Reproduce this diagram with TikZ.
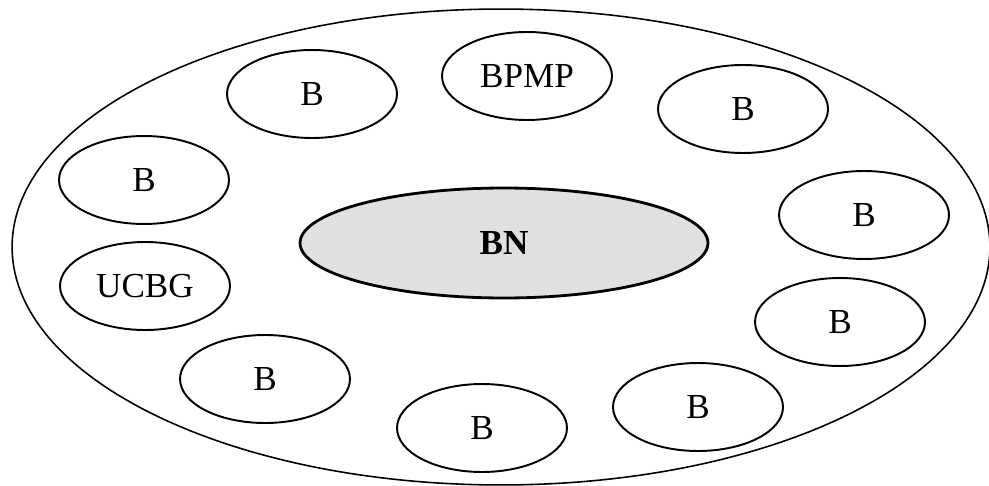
\documentclass[tikz,border=0pt]{standalone}
\usepackage{fontspec}
\setmainfont{Liberation Serif}
\usetikzlibrary{shapes.geometric}

\begin{document}
\begin{tikzpicture}[x=0.02cm,y=-0.02cm,
  bank/.style={ellipse,draw,line width=1.1pt,minimum width=3.4cm,minimum height=1.76cm,inner sep=0pt,font=\fontsize{20}{22}\selectfont}]

\useasboundingbox (0,0) rectangle (989,486);

% outer ring
\draw [line width=0.9pt] (501,247) ellipse [x radius=9.78cm, y radius=4.76cm];

% the hub in the middle
\node [bank,fill=black!12,line width=1.6pt,minimum width=8.16cm,minimum height=2.2cm,font=\fontsize{20}{22}\selectfont\bfseries] (bn) at (504,243) {BN};

% members round the ring
\node [bank] (bpmp) at (527,76) {BPMP};
\node [bank] (b1) at (312,94) {B};
\node [bank] (b2) at (743,109) {B};
\node [bank] (b3) at (864,215) {B};
\node [bank] (b4) at (840,322) {B};
\node [bank] (b5) at (698,407) {B};
\node [bank] (b6) at (482,428) {B};
\node [bank] (b7) at (265,379) {B};
\node [bank] (ucbg) at (145,286) {UCBG};
\node [bank] (b8) at (144,180) {B};

\end{tikzpicture}
\end{document}
